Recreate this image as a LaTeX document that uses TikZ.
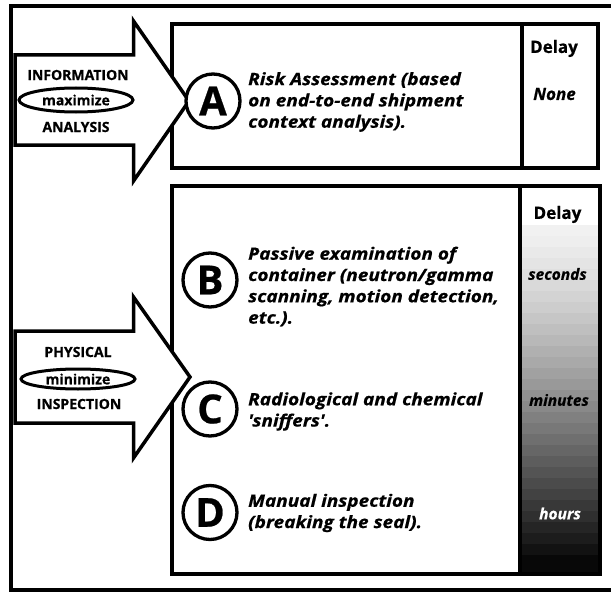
\documentclass[tikz,border=0pt]{standalone}
\usepackage{fontspec}
\newfontfamily\osans{Open Sans}[FakeBold=0.6]
\newfontfamily\osanswide{Open Sans}[FakeStretch=1.12,FakeBold=0.6]
\usetikzlibrary{shapes.geometric}
\begin{document}
\begin{tikzpicture}[x=1pt,y=-1pt,
  frame/.style={line width=4.5pt},
  boxline/.style={line width=4pt},
  bigarrow/.style={draw, fill=white, line width=3.5pt, line join=miter},
  letter/.style={circle, draw, fill=white, line width=3.3pt, minimum size=54pt, inner sep=0pt, font=\osans\fontsize{40}{40}\selectfont\bfseries},
  desc/.style={anchor=west, align=left, inner sep=0pt, font=\osanswide\fontsize{17}{21.3}\selectfont\bfseries\itshape},
  armtext/.style={inner sep=0pt, font=\osans\fontsize{14}{14}\selectfont\bfseries},
  oval/.style={ellipse, draw, line width=3pt, inner sep=0pt, font=\osans\fontsize{14}{14}\selectfont\bfseries},
  delay/.style={inner sep=0pt, font=\osans\fontsize{17}{17}\selectfont\bfseries},
  delayit/.style={inner sep=0pt, font=\osans\fontsize{15.5}{15.5}\selectfont\bfseries\itshape}]
\useasboundingbox (0,0) rectangle (611,594);
\fill[white] (0,0) rectangle (611,594);
% outer frame (right side lies beyond the picture)
\draw[frame] (611,6) -- (11,6) -- (11,590) -- (611,590);
% gradient delay column
\foreach \i in {0,...,29} {
  \pgfmathsetmacro\tt{(\i+0.5)/30}
  \pgfmathsetmacro\gg{0.95-0.9*pow(\tt,1.3)}
  \definecolor{bandc}{gray}{\gg}
  \fill[bandc] (520,225+11*\i) rectangle (600,236.5+11*\i);
}
\fill[black!97] (520,555) rectangle (600,574);
% boxes
\draw[boxline] (172,24.5) rectangle (598,168);
\draw[boxline] (522,24.5) -- (522,168);
\draw[boxline] (172,185.5) rectangle (600,574);
\draw[boxline] (520,185.5) -- (520,574);
% big arrows
\draw[bigarrow] (15,55) -- (133.5,55) -- (133.5,21) -- (189,101) -- (133.5,181) -- (133.5,145) -- (15,145) -- cycle;
\draw[bigarrow] (15,331) -- (133.5,331) -- (133.5,297) -- (190,377) -- (133.5,458) -- (133.5,423) -- (15,423) -- cycle;
% arrow texts
\node[armtext] (info) at (78,75) {INFORMATION};
\node[oval, minimum width=114pt, minimum height=24pt] (maxi) at (76,100) {maximize};
\node[armtext] (anal) at (76,127) {ANALYSIS};
\node[armtext] (phys) at (78,352) {PHYSICAL};
\node[oval, minimum width=114pt, minimum height=20pt] (mini) at (78,379) {minimize};
\node[armtext] (insp) at (79,404) {INSPECTION};
% lettered circles
\node[letter] (A) at (213,101) {A};
\node[letter] (B) at (210,280) {B};
\node[letter] (C) at (210,409) {C};
\node[letter] (D) at (210,512.5) {D};
% descriptions
\node[desc] (tA) at (248,102) {Risk Assessment (based\\on end-to-end shipment\\context analysis).};
\node[desc] (tB) at (248,286.5) {Passive examination of\\container (neutron/gamma\\scanning, motion detection,\\etc.).};
\node[desc] (tC) at (248,411.5) {Radiological and chemical\\'sniffers'.};
\node[desc] (tD) at (248,513) {Manual inspection\\(breaking the seal).};
% delay column texts
\node[delay] (dA) at (554,48.5) {Delay};
\node[delayit, font=\osans\fontsize{17}{17}\selectfont\bfseries\itshape] (none) at (554.5,94) {None};
\node[delay] (dB) at (557.5,214.5) {Delay};
\node[delayit] (sec) at (557.5,274) {seconds};
\node[delayit] (min) at (559,400) {minutes};
\node[delayit, text=white] (hrs) at (560,513.5) {hours};
\end{tikzpicture}
\end{document}
